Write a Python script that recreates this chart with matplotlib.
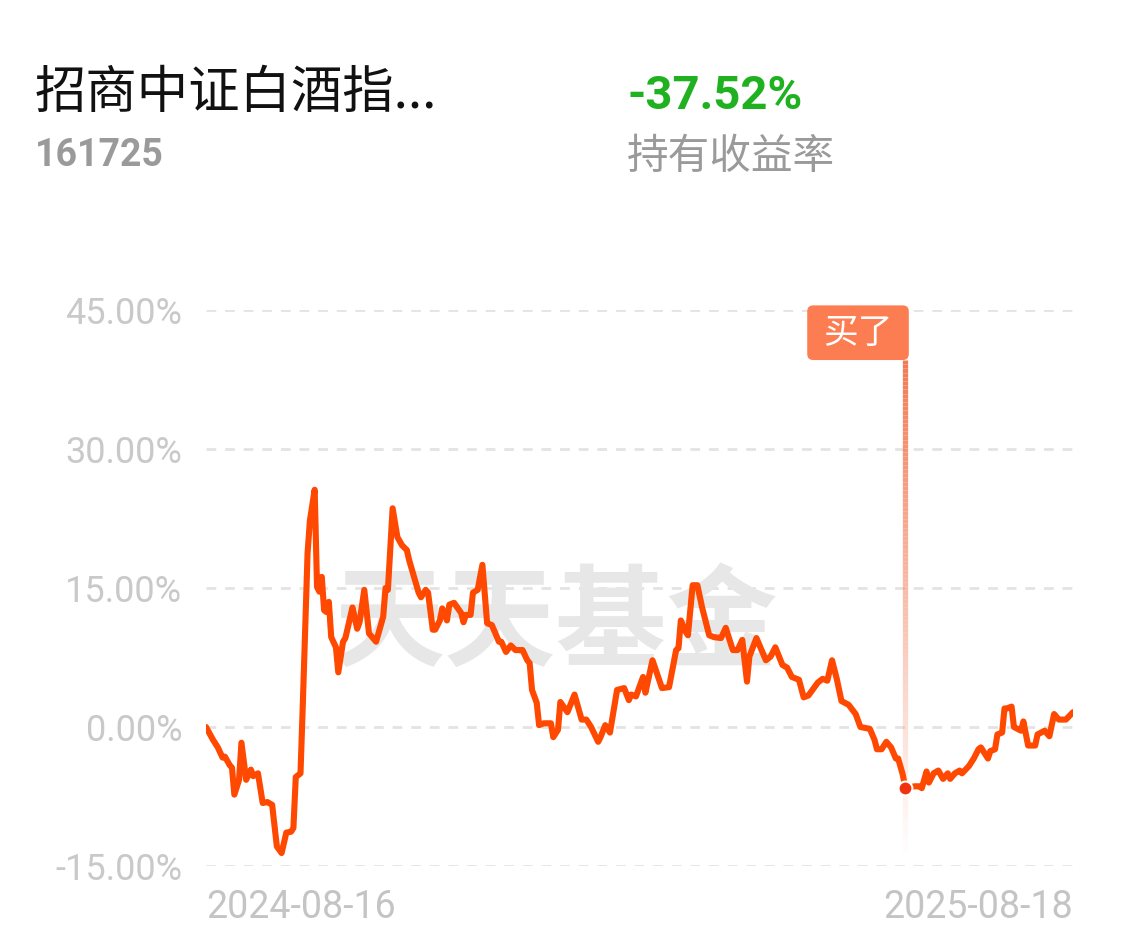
import numpy as np
import matplotlib.pyplot as plt
from matplotlib.collections import LineCollection
from matplotlib.patches import FancyBboxPatch

plt.rcParams['font.family'] = ['Noto Sans CJK SC', 'DejaVu Sans']

# header texts
fund_name = "招商中证白酒指..."
fund_code = "161725"
hold_return = "-37.52%"
hold_label = "持有收益率"
start_label = "2024-08-16"
end_label = "2025-08-18"
watermark = "天天基金"
buy_text = "买了"

yticks = [-15, 0, 15, 30, 45]
total_days = 367

# days since 2024-08-16 and cumulative return (%)
day = [0, 3, 5, 7, 8, 10, 11, 12, 14, 15, 17, 19, 20, 22, 24, 26, 28, 30, 32, 34,
       36, 37, 38, 40, 41, 43, 44, 46, 47, 48, 49, 50, 51, 52, 53, 55, 56, 58, 59, 62,
       64, 65, 67, 69, 72, 75, 76, 77, 79, 81, 83, 85, 86, 90, 91, 93, 94, 96, 97, 99,
       100, 102, 103, 105, 108, 109, 110, 112, 113, 115, 117, 119, 121, 124, 125, 127, 129, 131, 134, 136,
       137, 138, 140, 141, 143, 146, 147, 149, 150, 153, 156, 159, 161, 163, 166, 167, 169, 171, 174, 177,
       179, 180, 182, 185, 186, 189, 193, 196, 199, 200, 201, 203, 204, 206, 208, 210, 213, 215, 218, 220,
       223, 225, 227, 229, 230, 233, 237, 239, 241, 244, 246, 248, 251, 253, 255, 259, 261, 263, 265, 267,
       269, 272, 275, 277, 281, 283, 284, 286, 288, 290, 292, 293, 295, 296, 300, 302, 303, 305, 306, 308,
       310, 312, 314, 315, 317, 319, 320, 323, 325, 327, 328, 331, 332, 334, 335, 337, 338, 339, 341, 342,
       345, 346, 348, 351, 352, 355, 357, 359, 361, 364, 367]
ret = [0.0, -1.4, -2.2, -3.3, -3.2, -4.1, -4.4, -7.3, -5.7, -1.7, -5.7, -4.6, -5.3, -5.0, -8.2, -8.1, -8.4, -12.9, -13.6, -11.4,
       -11.3, -10.9, -5.4, -5.0, 2.6, 18.8, 22.3, 25.6, 15.1, 14.6, 16.2, 12.6, 12.4, 13.5, 9.7, 8.6, 5.9, 9.2, 9.6, 12.9,
       10.6, 11.3, 14.8, 10.1, 9.2, 11.9, 15.0, 14.8, 23.6, 20.5, 19.6, 19.1, 18.0, 14.5, 14.0, 14.8, 14.5, 10.5, 10.5, 11.5,
       12.8, 11.5, 13.2, 13.4, 12.3, 11.3, 12.1, 12.1, 14.5, 14.8, 17.5, 11.2, 11.0, 9.2, 9.2, 8.1, 8.8, 8.3, 8.3, 7.2,
       6.9, 4.0, 2.6, 0.2, 0.4, 0.4, -1.1, -0.3, 2.7, 1.6, 3.5, 0.8, 0.8, 0.0, -1.6, -1.1, 0.2, -0.6, 4.0, 4.2,
       2.9, 3.5, 3.3, 5.4, 3.7, 7.2, 4.2, 4.3, 8.3, 8.5, 11.5, 10.3, 9.9, 15.3, 15.3, 12.9, 9.9, 9.7, 9.6, 10.7,
       8.3, 8.3, 9.4, 4.9, 7.6, 9.6, 7.2, 7.6, 8.6, 6.7, 6.4, 5.4, 5.1, 3.2, 3.4, 4.8, 5.2, 5.0, 7.2, 5.2,
       2.8, 2.4, 1.4, 0.0, -0.2, -1.4, -2.4, -2.4, -1.6, -2.2, -3.4, -3.4, -5.2, -6.6, -6.4, -6.4, -6.6, -4.8, -6.0, -5.0,
       -4.7, -5.6, -5.0, -5.6, -5.0, -4.7, -5.0, -4.2, -3.4, -2.4, -2.2, -3.4, -2.6, -2.4, -0.8, -0.6, 2.0, 2.0, 2.2, 0.0,
       -0.4, 0.6, -2.0, -2.0, -0.8, -0.4, -1.0, 1.4, 0.8, 0.8, 1.6]
buy_day = 296
buy_ret = -6.6

W, H = 1122, 949
fig = plt.figure(figsize=(W / 100, H / 100), dpi=100)
fig.patch.set_facecolor('white')

# header
fig.text(35 / W, 1 - 93 / H, fund_name, fontsize=37, color='#111111', va='center', ha='left')
fig.text(35 / W, 1 - 156 / H, fund_code, fontsize=27, color='#9a9a9a', va='center', ha='left',
         family=['Roboto', 'DejaVu Sans'], weight='bold')
fig.text(627 / W, 1 - 96 / H, hold_return, fontsize=34, color='#1fb11f', va='center', ha='left',
         family=['Roboto', 'DejaVu Sans'], weight='bold')
fig.text(627 / W, 1 - 157 / H, hold_label, fontsize=30, color='#9a9a9a', va='center', ha='left')

ax = fig.add_axes([206 / W, 1 - 866 / H, 867 / W, 556 / H])
ax.set_xlim(0, total_days)
ax.set_ylim(-15, 45)
for s in ax.spines.values():
    s.set_visible(False)
ax.set_xticks([])
ax.set_yticks(yticks)
ax.set_yticklabels([f"{v:.2f}%" for v in yticks], family=['Roboto', 'DejaVu Sans'])
ax.tick_params(axis='y', length=0, pad=17, labelsize=26, labelcolor='#c9c9c9')

for v in yticks:
    ax.axhline(v, color='#e3e3e3', lw=2, dashes=(3.5, 3.2), zorder=0)

# watermark
ax.text(148, 10.9, watermark, fontsize=80, color='#e7e7e7', weight='bold',
        ha='center', va='center', zorder=0.5)

# x labels
tr = ax.get_xaxis_transform()
ax.text(0, -0.075, start_label, transform=tr, ha='left', va='center', fontsize=27,
        color='#c4c4c4', family=['Roboto', 'DejaVu Sans'])
ax.text(total_days, -0.075, end_label, transform=tr, ha='right', va='center', fontsize=27,
        color='#c4c4c4', family=['Roboto', 'DejaVu Sans'])

# main line
ax.plot(day, ret, color='#ff4800', lw=4.4, solid_joinstyle='round', solid_capstyle='round', zorder=3)

# buy marker: fading vertical line
label_bottom, line_bottom = 39.6, -14.2
ys = np.linspace(label_bottom, line_bottom, 120)
segs = [[(buy_day, ys[i]), (buy_day, ys[i + 1])] for i in range(len(ys) - 1)]
alphas = np.linspace(1.0, 0.0, len(segs)) ** 1.1
cols = [(0.95, 0.48, 0.33, a) for a in alphas]
ax.add_collection(LineCollection(segs, colors=cols, linewidths=3.8, zorder=2, clip_on=False))

box = FancyBboxPatch((buy_day - 41.5, label_bottom), 43, 5.9,
                     boxstyle='round,pad=0,rounding_size=2.6', mutation_aspect=0.25,
                     fc='#fd7d52', ec='none', clip_on=False, zorder=4)
ax.add_patch(box)
ax.text(buy_day - 20, label_bottom + 2.9, buy_text, color='white', fontsize=25,
        ha='center', va='center', zorder=5)

ax.plot([buy_day], [buy_ret], 'o', ms=10, color='#f0320f', mec='white', mew=1.5, zorder=6)

fig.savefig('out.png', dpi=100)
